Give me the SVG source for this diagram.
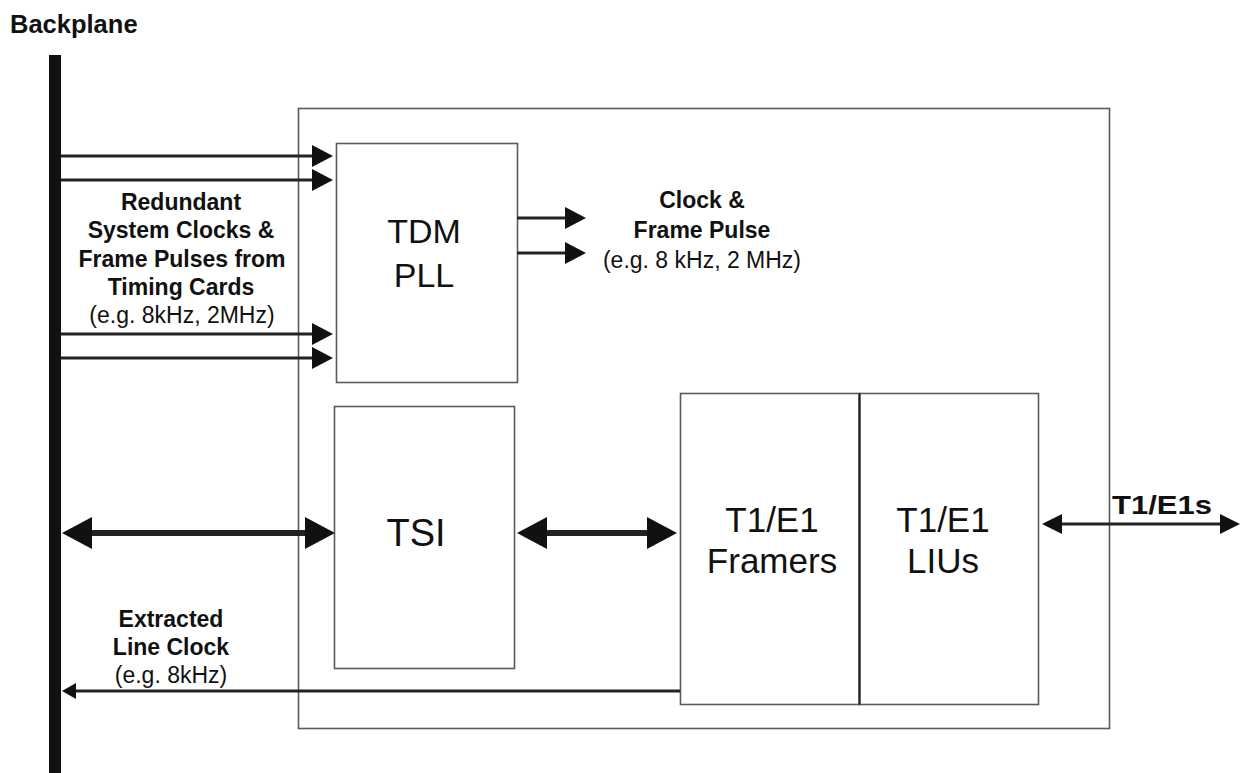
<svg xmlns="http://www.w3.org/2000/svg" width="1245" height="773" viewBox="0 0 1245 773">
  <style>
    .box { fill: #ffffff; stroke: #5a5a5a; stroke-width: 1.6; }
    .lbl { font-family: "Liberation Sans", Arial, sans-serif; fill: #111; text-anchor: middle; }
    .b { font-weight: bold; }
    .big { font-size: 34px; }
    .mid { font-size: 23px; }
    .ln { stroke: #222; fill: none; }
  </style>
  <defs>
    <marker id="ahIn" markerUnits="userSpaceOnUse" markerWidth="22" markerHeight="22" refX="13" refY="11" orient="auto">
      <path d="M0,0 L21,11 L0,22 Z" fill="#111"/>
    </marker>
    <marker id="ahThick" markerUnits="userSpaceOnUse" markerWidth="31" markerHeight="32" refX="20" refY="16" orient="auto-start-reverse">
      <path d="M0,0 L30,16 L0,32 Z" fill="#111"/>
    </marker>
    <marker id="ahMid" markerUnits="userSpaceOnUse" markerWidth="21" markerHeight="20" refX="14" refY="10" orient="auto-start-reverse">
      <path d="M0,0 L20,10 L0,20 Z" fill="#111"/>
    </marker>
    <marker id="ahSmall" markerUnits="userSpaceOnUse" markerWidth="15" markerHeight="16" refX="10" refY="8" orient="auto">
      <path d="M0,0 L14,8 L0,16 Z" fill="#111"/>
    </marker>
  </defs>

  <g id="backplane">
    <text class="lbl b" x="10" y="33" style="text-anchor:start;font-size:25.5px">Backplane</text>
    <rect x="49" y="55" width="12" height="718" fill="#111"/>
  </g>

  <g id="card">
    <rect class="box" x="298.5" y="108.5" width="811" height="620"/>
  </g>

  <g id="tdm-pll">
    <rect class="box" x="336.5" y="143.5" width="181" height="239"/>
    <text class="lbl big" x="424" y="243">TDM</text>
    <text class="lbl big" x="424" y="287">PLL</text>
  </g>

  <g id="tsi">
    <rect class="box" x="334.5" y="406.5" width="180" height="262"/>
    <text class="lbl" x="416" y="546" style="font-size:38px">TSI</text>
  </g>

  <g id="framers">
    <rect class="box" x="680.5" y="393.5" width="179" height="311"/>
    <text class="lbl" x="772" y="532" style="font-size:35px">T1/E1</text>
    <text class="lbl" x="772" y="573" style="font-size:35px">Framers</text>
  </g>

  <g id="lius">
    <rect class="box" x="859.5" y="393.5" width="179" height="311"/>
    <line x1="859.5" y1="393.5" x2="859.5" y2="704.5" stroke="#222" stroke-width="2.2"/>
    <text class="lbl" x="943" y="532" style="font-size:35px">T1/E1</text>
    <text class="lbl" x="943" y="573" style="font-size:35px">LIUs</text>
  </g>

  <g id="labels">
    <text class="lbl mid b" x="181" y="210">Redundant</text>
    <text class="lbl mid b" x="181" y="238">System Clocks &amp;</text>
    <text class="lbl mid b" x="182" y="267">Frame Pulses from</text>
    <text class="lbl mid b" x="181" y="295">Timing Cards</text>
    <text class="lbl mid" x="182" y="323">(e.g. 8kHz, 2MHz)</text>

    <text class="lbl mid b" x="702" y="208">Clock &amp;</text>
    <text class="lbl mid b" x="702" y="238">Frame Pulse</text>
    <text class="lbl mid" x="702" y="268">(e.g. 8 kHz, 2 MHz)</text>

    <text class="lbl mid b" x="171" y="627">Extracted</text>
    <text class="lbl mid b" x="171" y="655">Line Clock</text>
    <text class="lbl mid" x="171" y="683">(e.g. 8kHz)</text>

    <text class="lbl b" x="1162" y="514" style="font-size:25px" textLength="100" lengthAdjust="spacingAndGlyphs">T1/E1s</text>
  </g>

  <g id="connectors">
    <line class="ln" x1="61" y1="156" x2="325" y2="156" stroke-width="3" marker-end="url(#ahIn)"/>
    <line class="ln" x1="61" y1="180" x2="325" y2="180" stroke-width="3" marker-end="url(#ahIn)"/>
    <line class="ln" x1="61" y1="334" x2="325" y2="334" stroke-width="3" marker-end="url(#ahIn)"/>
    <line class="ln" x1="61" y1="358" x2="325" y2="358" stroke-width="3" marker-end="url(#ahIn)"/>

    <line class="ln" x1="517" y1="218" x2="578" y2="218" stroke-width="3" marker-end="url(#ahIn)"/>
    <line class="ln" x1="517" y1="253" x2="578" y2="253" stroke-width="3" marker-end="url(#ahIn)"/>

    <line class="ln" x1="72" y1="533" x2="325" y2="533" stroke-width="6" marker-start="url(#ahThick)" marker-end="url(#ahThick)"/>
    <line class="ln" x1="527" y1="533" x2="667" y2="533" stroke-width="6" marker-start="url(#ahThick)" marker-end="url(#ahThick)"/>

    <line class="ln" x1="1048" y1="524" x2="1234" y2="524" stroke-width="3" marker-start="url(#ahMid)" marker-end="url(#ahMid)"/>

    <line class="ln" x1="680" y1="691" x2="66" y2="691" stroke-width="3" marker-end="url(#ahSmall)"/>
  </g>
</svg>
